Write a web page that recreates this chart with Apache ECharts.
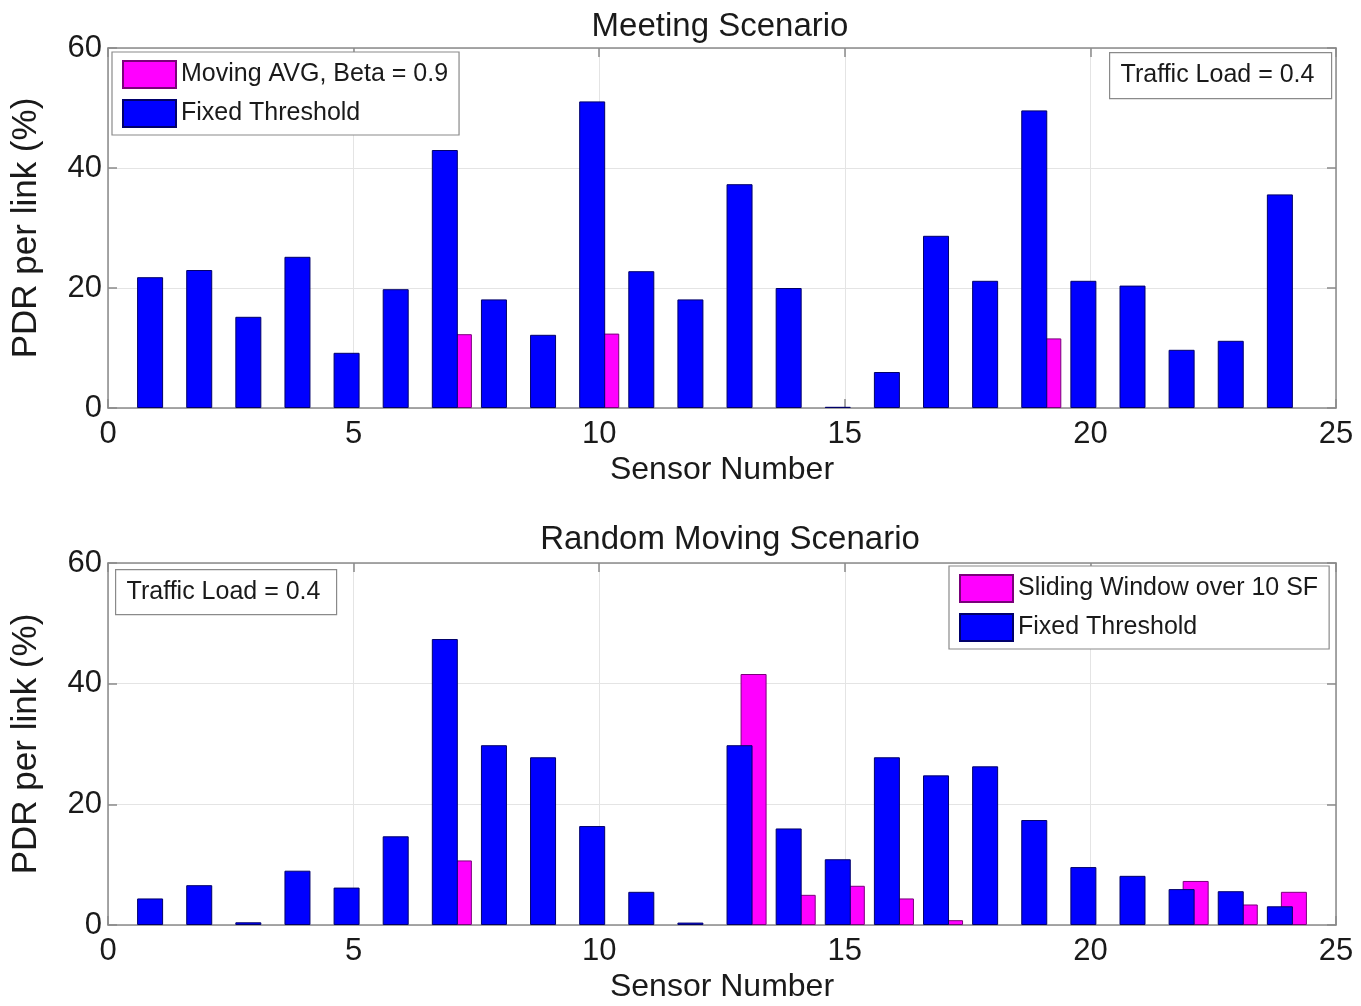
<!DOCTYPE html>
<html>
<head>
<meta charset="utf-8">
<script src="https://cdn.jsdelivr.net/npm/echarts@6/dist/echarts.min.js"></script>
<style>
html,body{margin:0;padding:0;background:#fff;}
#chart{width:1361px;height:1006px;}
</style>
</head>
<body>
<div id="chart"></div>
<script>
// ---- data ----
const sensors = [1,2,3,4,5,6,7,8,9,10,11,12,13,14,15,16,17,18,19,20,21,22,23,24];
const xTicks = [0,5,10,15,20,25];
const yTicks = [0,20,40,60];

const meetingFixed = [21.8,23.0,15.2,25.2,9.2,19.8,43.0,18.1,12.2,51.1,22.8,18.1,37.3,20.0,0.2,6.0,28.7,21.2,49.6,21.2,20.4,9.7,11.2,35.6];
const meetingMovingAvg = [0,0,0,0,0,0,12.3,0,0,12.4,0,0,0,0,0,0,0,0,11.6,0,0,0,0,0];

const randomFixed = [4.4,6.6,0.45,9.0,6.2,14.7,47.4,29.8,27.8,16.4,5.5,0.4,29.8,16.0,10.9,27.8,24.8,26.3,17.4,9.6,8.15,5.95,5.6,3.1];
const randomSliding = [0,0,0,0,0,0,10.7,0,0,0,0,0,41.6,5.0,6.5,4.4,0.8,0,0,0,0,7.3,3.4,5.5];

const titles = ['Meeting Scenario','Random Moving Scenario'];
const legendNames = [['Moving AVG, Beta = 0.9','Fixed Threshold'],['Sliding Window over 10 SF','Fixed Threshold']];
const xName = 'Sensor Number';
const yName = 'PDR per link (%)';
const noteText = 'Traffic Load = 0.4';

// ---- styles ----
const FONT = 'Liberation Sans, Arial, Helvetica, sans-serif';
const TXT = '#1a1a1a';
const AXC = '#8a8a8a';
const BLUE = '#0000ff';
const MAG = '#ff00ff';

// zero-height bars are left out (they would only draw a border line on the baseline)
const pairs = (vals) => sensors.map((s,i)=>[s, vals[i] === 0 ? '-' : vals[i]]);

const grids = [
  {left:108, top:48, width:1228, height:360},
  {left:108, top:563, width:1228, height:362}
];

function mainX(gi){
  return {
    type:'value', gridIndex:gi, min:xTicks[0], max:xTicks[xTicks.length-1], interval:5,
    name:xName, nameLocation:'middle', nameGap:46,
    nameTextStyle:{fontSize:32, color:TXT, fontFamily:FONT},
    axisLine:{show:true, onZero:false, lineStyle:{color:AXC, width:1.5}},
    axisTick:{show:true, inside:true, length:9, lineStyle:{color:AXC, width:1.5}},
    axisLabel:{fontSize:31, color:TXT, fontFamily:FONT, margin:11},
    splitLine:{show:true, lineStyle:{color:'#e4e4e4', width:1}}
  };
}
function topX(gi){
  return {
    type:'value', gridIndex:gi, position:'top', min:0, max:25, interval:5,
    axisLine:{show:true, onZero:false, lineStyle:{color:AXC, width:1.5}},
    axisTick:{show:true, inside:true, length:9, lineStyle:{color:AXC, width:1.5}},
    axisLabel:{show:false}, splitLine:{show:false}
  };
}
function mainY(gi){
  return {
    type:'value', gridIndex:gi, min:yTicks[0], max:yTicks[yTicks.length-1], interval:20,
    name:yName, nameLocation:'middle', nameGap:64,
    nameTextStyle:{fontSize:35, color:TXT, fontFamily:FONT},
    axisLine:{show:true, onZero:false, lineStyle:{color:AXC, width:1.5}},
    axisTick:{show:true, inside:true, length:9, lineStyle:{color:AXC, width:1.5}},
    axisLabel:{fontSize:31, color:TXT, fontFamily:FONT, margin:6},
    splitLine:{show:true, lineStyle:{color:'#e4e4e4', width:1}}
  };
}
function rightY(gi){
  return {
    type:'value', gridIndex:gi, position:'right', min:0, max:60, interval:20,
    axisLine:{show:true, onZero:false, lineStyle:{color:AXC, width:1.5}},
    axisTick:{show:true, inside:true, length:9, lineStyle:{color:AXC, width:1.5}},
    axisLabel:{show:false}, splitLine:{show:false}
  };
}

function barSeries(name, vals, gi, color, border, z){
  return {
    type:'bar', name:name, xAxisIndex:gi, yAxisIndex:gi,
    data:pairs(vals), barWidth:26, barGap:'-46%', z:z,
    itemStyle:{color:color, borderColor:border, borderWidth:1},
    emphasis:{disabled:true}
  };
}

function legendCfg(names, left, top){
  return {
    data:names, orient:'vertical', left:left, top:top,
    padding:[8,11,7,10], itemGap:10, itemWidth:53, itemHeight:27,
    icon:'rect', backgroundColor:'#fff', borderColor:'#8a8a8a', borderWidth:1.2,
    textStyle:{fontSize:25, color:TXT, fontFamily:FONT, padding:[0,0,0,0]},
    selectedMode:false
  };
}

const option = {
  animation:false,
  backgroundColor:'#fff',
  title:[
    {text:titles[0], left:715, top:5, textAlign:'center',
     textStyle:{fontSize:33, fontWeight:'normal', color:TXT, fontFamily:FONT}},
    {text:titles[1], left:725, top:518, textAlign:'center',
     textStyle:{fontSize:33, fontWeight:'normal', color:TXT, fontFamily:FONT}}
  ],
  grid:grids,
  xAxis:[mainX(0), mainX(1), topX(0), topX(1)],
  yAxis:[mainY(0), mainY(1), rightY(0), rightY(1)],
  legend:[
    legendCfg(legendNames[0], 112, 52),
    legendCfg(legendNames[1], 949, 566)
  ],
  series:[
    barSeries('Fixed Threshold', meetingFixed, 0, BLUE, '#00006a', 3),
    barSeries(legendNames[0][0], meetingMovingAvg, 0, MAG, '#7a007a', 2),
    barSeries('Fixed Threshold', randomFixed, 1, BLUE, '#00006a', 3),
    barSeries(legendNames[1][0], randomSliding, 1, MAG, '#7a007a', 2)
  ],
  graphic:[
    {type:'group', left:1109, top:52, z:100, children:[
      {type:'rect', shape:{x:0, y:0, width:222, height:46}, style:{fill:'#fff', stroke:'#8a8a8a', lineWidth:1.2}},
      {type:'text', x:11, y:23, style:{text:noteText, fontSize:25, fontFamily:FONT, fill:TXT, verticalAlign:'middle'}}
    ]},
    {type:'group', left:115, top:569, z:100, children:[
      {type:'rect', shape:{x:0, y:0, width:221, height:45}, style:{fill:'#fff', stroke:'#8a8a8a', lineWidth:1.2}},
      {type:'text', x:11, y:22.5, style:{text:noteText, fontSize:25, fontFamily:FONT, fill:TXT, verticalAlign:'middle'}}
    ]}
  ]
};

const chart = echarts.init(document.getElementById('chart'), null, {renderer:'canvas'});
chart.setOption(option);
</script>
</body>
</html>
